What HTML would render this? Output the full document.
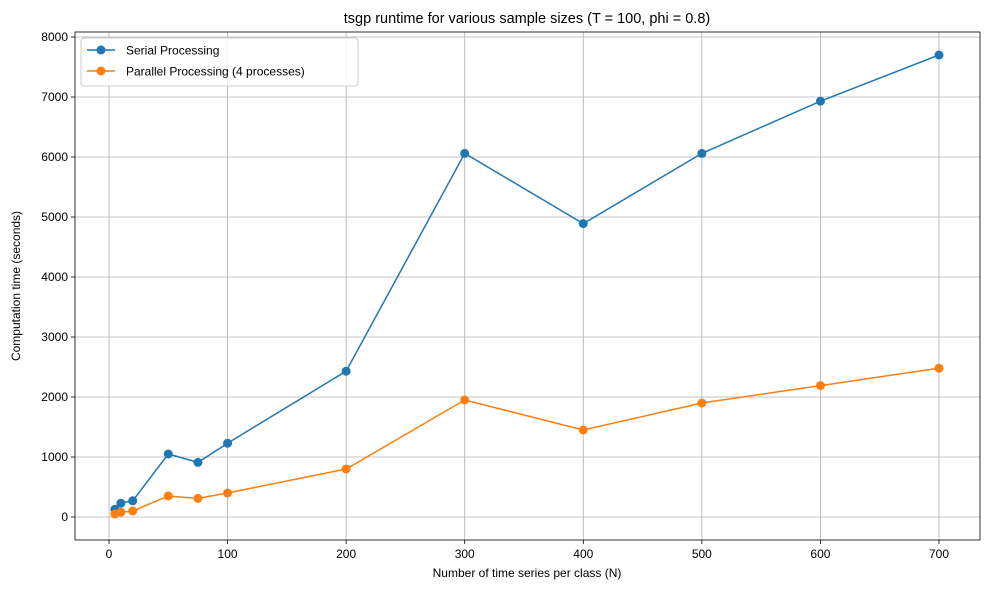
<!DOCTYPE html>
<html><head><meta charset="utf-8"><style>
body{margin:0;background:#fff;font-family:"Liberation Sans",sans-serif}
svg text{font-family:"Liberation Sans","DejaVu Sans",sans-serif;fill:#000}
</style></head><body>
<svg id="c" width="990" height="590"></svg>
<script>
const nValues=[5,10,20,50,75,100,200,300,400,500,600,700];
const serialTimes=[130,230,270,1050,910,1230,2430,6060,4890,6060,6930,7700];
const parallelTimes=[50,80,100,350,310,400,800,1950,1450,1900,2190,2480];
const xTicks=[0,100,200,300,400,500,600,700];
const yTicks=[0,1000,2000,3000,4000,5000,6000,7000,8000];
const L=75,R=980,T=32,B=540;
const xs=v=>109+v*(830/700);
const ys=v=>517-v*0.06;
const svg=document.getElementById('c');
const NS='http://www.w3.org/2000/svg';
function mk(t,a,p){const e=document.createElementNS(NS,t);for(const k in a)e.setAttribute(k,a[k]);(p||svg).appendChild(e);return e;}
xTicks.forEach(v=>{const x=xs(v);
 const g=mk('line',{x1:x,x2:x,y1:T,y2:B,stroke:'#b0b0b0','stroke-width':0.8});
 
 
 mk('line',{x1:x,x2:x,y1:B,y2:B+4,stroke:'#000','stroke-width':0.8});
 const t=mk('text',{x:x,y:B+18,'text-anchor':'middle','font-size':12});t.textContent=v;
 
 
});
yTicks.forEach(v=>{const y=ys(v);
 const g=mk('line',{x1:L,x2:R,y1:y,y2:y,stroke:'#b0b0b0','stroke-width':0.8});
 
 
 mk('line',{x1:L-4,x2:L,y1:y,y2:y,stroke:'#000','stroke-width':0.8});
 const t=mk('text',{x:L-7,y:y+4,'text-anchor':'end','font-size':12});t.textContent=v;
 
 
});
function series(vals,color,name){
 const pts=nValues.map((n,i)=>xs(n)+','+ys(vals[i])).join(' ');
 const pl=mk('polyline',{points:pts,fill:'none',stroke:color,'stroke-width':1.5});
 
 
 nValues.forEach((n,i)=>{const c=mk('circle',{cx:xs(n),cy:ys(vals[i]),r:4.5,fill:color});
  
  });
}
series(serialTimes,'#1f77b4','serial');
series(parallelTimes,'#ff7f0e','parallel');
mk('rect',{x:L,y:T,width:R-L,height:B-T,fill:'none',stroke:'#000','stroke-width':0.8});
const lg=mk('g',{});


mk('rect',{x:81,y:38,width:277,height:48,rx:3,fill:'#fff','fill-opacity':0.8,stroke:'#ccc'},lg);
[['Serial Processing','#1f77b4',50],['Parallel Processing (4 processes)','#ff7f0e',71]].forEach(([t,c,y])=>{
 mk('line',{x1:87,x2:115,y1:y,y2:y,stroke:c,'stroke-width':1.5},lg);
 mk('circle',{cx:101,cy:y,r:4.5,fill:c},lg);
 const tx=mk('text',{x:126,y:y+4.5,'font-size':12},lg);tx.textContent=t;
 
 
});
const tt=mk('text',{x:527,y:23,'text-anchor':'middle','font-size':14.5});tt.textContent='tsgp runtime for various sample sizes (T = 100, phi = 0.8)';


const xt=mk('text',{x:527,y:577,'text-anchor':'middle','font-size':12});xt.textContent='Number of time series per class (N)';


const yt=mk('text',{x:20,y:286,'text-anchor':'middle','font-size':12,transform:'rotate(-90 20 286)'});yt.textContent='Computation time (seconds)';


</script>
</body></html>
